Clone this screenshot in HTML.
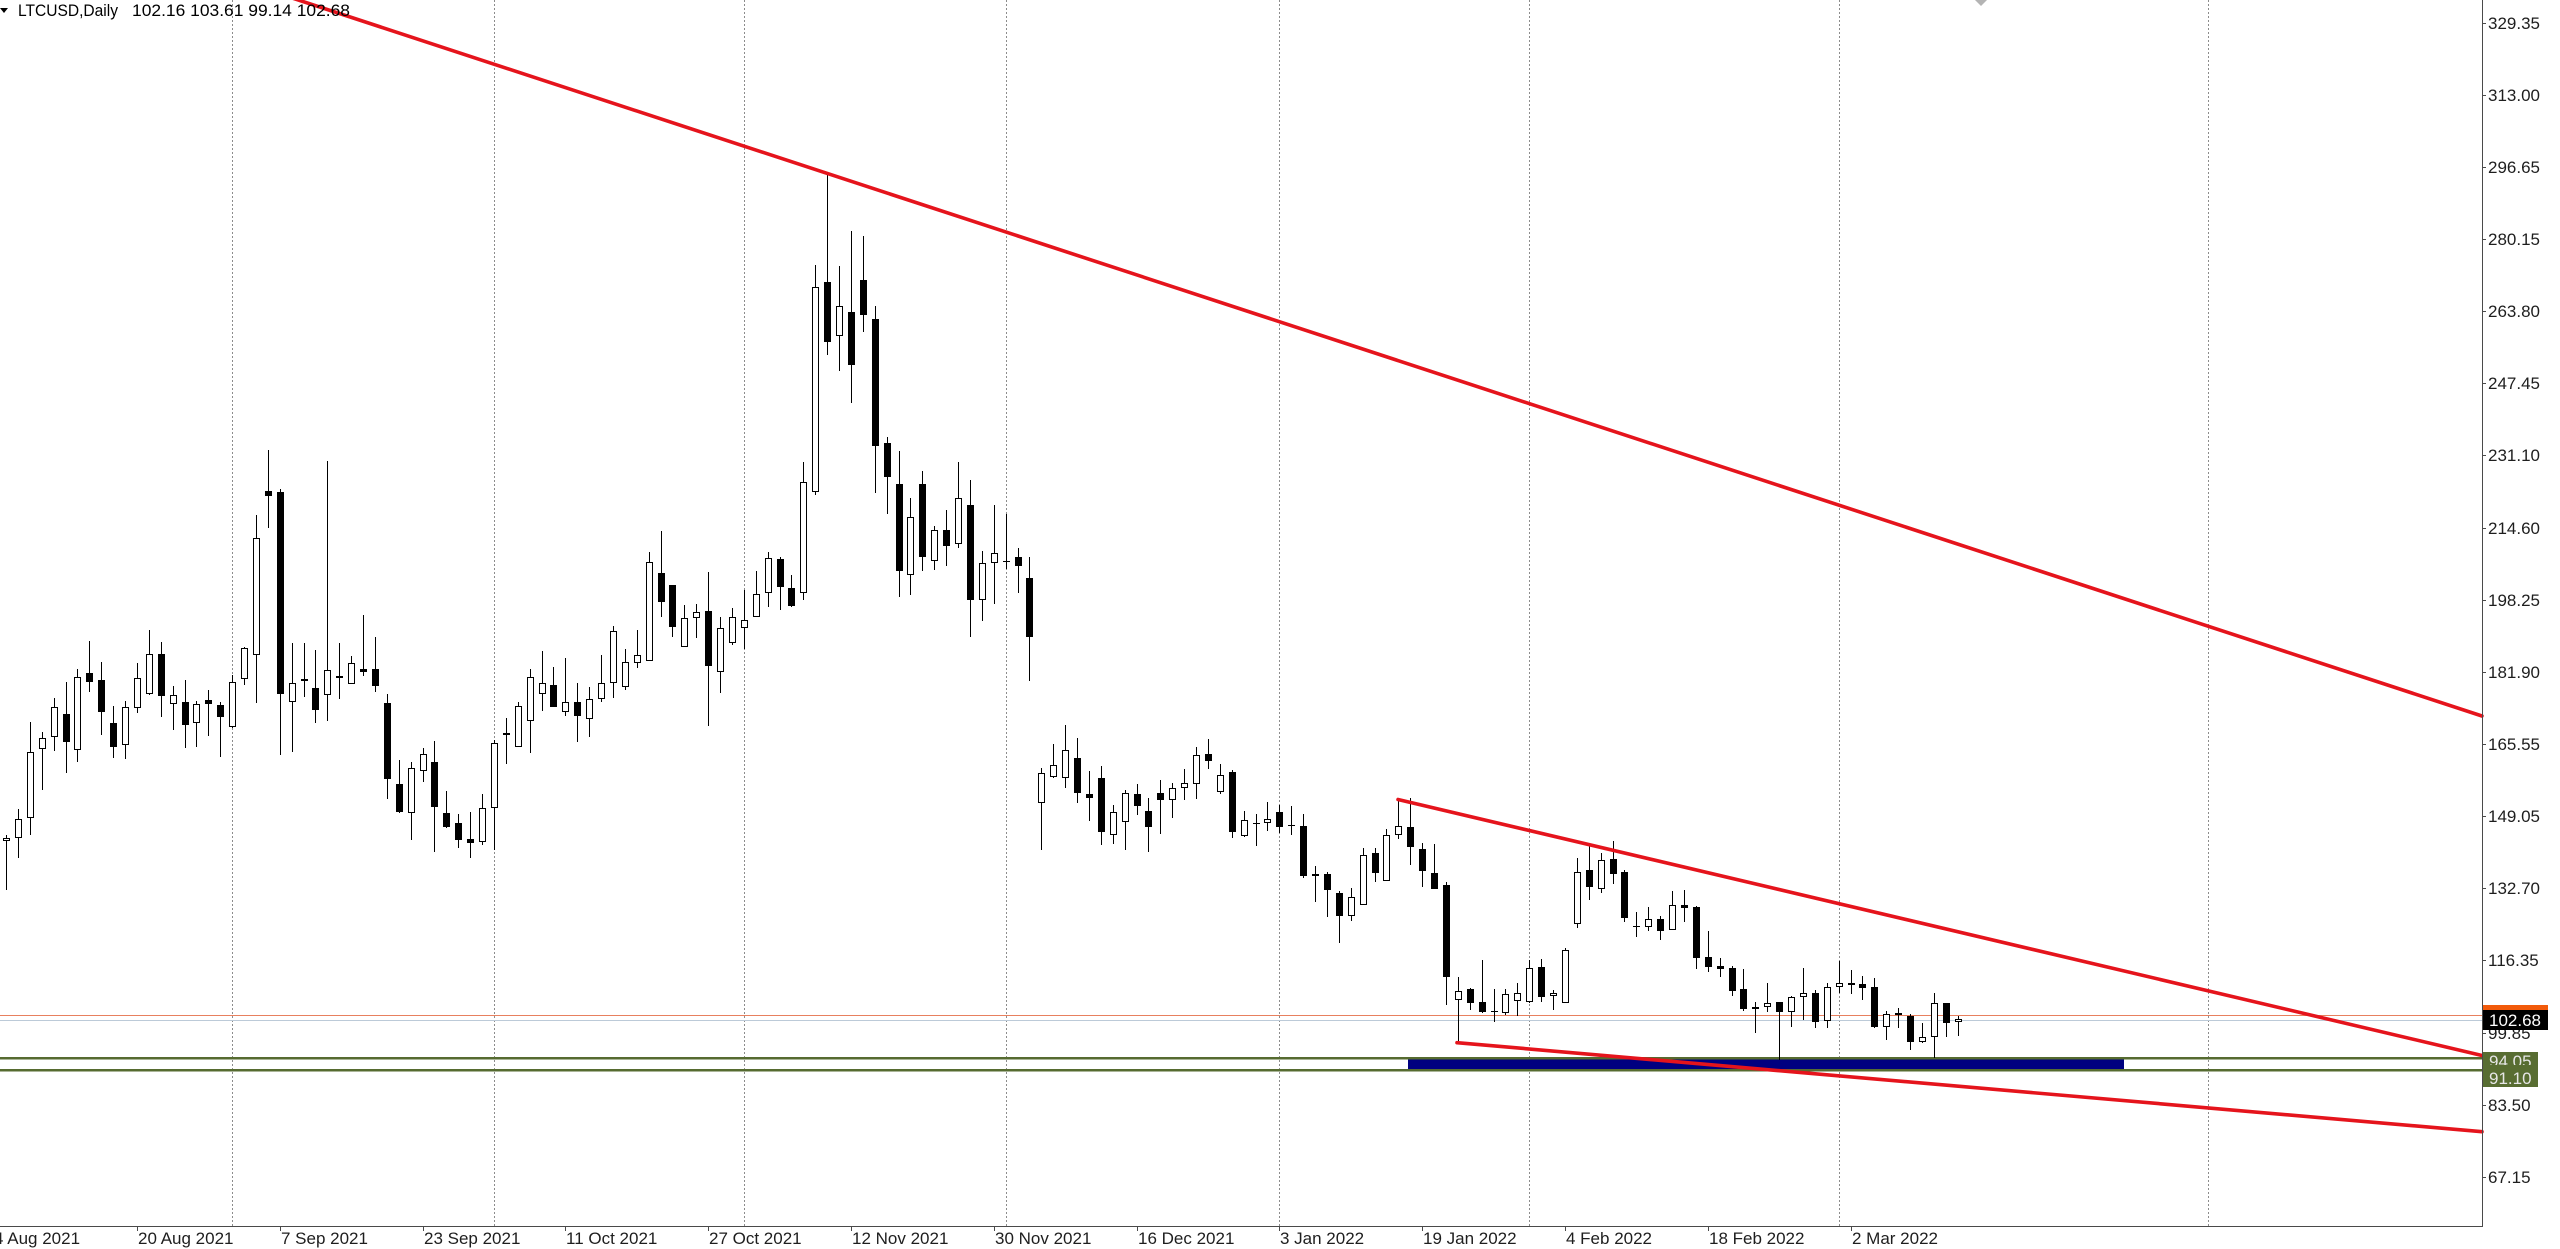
<!DOCTYPE html>
<html><head><meta charset="utf-8"><style>
html,body{margin:0;padding:0;background:#fff;}
svg{display:block;}
text{font-family:"Liberation Sans",Arial,sans-serif;}
</style></head><body>
<svg width="2560" height="1249" viewBox="0 0 2560 1249" xmlns="http://www.w3.org/2000/svg">
<rect x="0" y="0" width="2560" height="1249" fill="#fff"/>
<!-- grid -->
<g stroke="#8c8c8c" stroke-width="1" stroke-dasharray="2 2" shape-rendering="crispEdges">
<line x1="232.5" y1="0" x2="232.5" y2="1226"/>
<line x1="494.5" y1="0" x2="494.5" y2="1226"/>
<line x1="744.5" y1="0" x2="744.5" y2="1226"/>
<line x1="1006.5" y1="0" x2="1006.5" y2="1226"/>
<line x1="1279.5" y1="0" x2="1279.5" y2="1226"/>
<line x1="1529.5" y1="0" x2="1529.5" y2="1226"/>
<line x1="1839.5" y1="0" x2="1839.5" y2="1226"/>
<line x1="2208.5" y1="0" x2="2208.5" y2="1226"/>
</g>
<!-- bid/ask lines -->
<line x1="0" y1="1015.5" x2="2482" y2="1015.5" stroke="#e8805e" stroke-width="1" shape-rendering="crispEdges"/>
<line x1="0" y1="1020.5" x2="2482" y2="1020.5" stroke="#bccad8" stroke-width="1" shape-rendering="crispEdges"/>
<!-- blue rectangle -->
<rect x="1408" y="1058" width="716" height="12" fill="#000080"/>
<!-- green levels -->
<g stroke="#566b30" stroke-width="2.5" shape-rendering="crispEdges">
<line x1="0" y1="1058" x2="2482" y2="1058"/>
<line x1="0" y1="1070" x2="2482" y2="1070"/>
</g>
<!-- wicks -->
<path fill="none" stroke="#000" stroke-width="1" shape-rendering="crispEdges" d="M6.5 835V890 M18.5 809V858 M30.5 722V835 M42.5 732V790 M54.5 698V751 M66.5 682V773 M77.5 669V762 M89.5 641V692 M101.5 662V735 M113.5 706V758 M125.5 701V759 M137.5 663V713 M149.5 630V695 M161.5 642V717 M173.5 686V730 M185.5 680V748 M196.5 701V747 M208.5 690V736 M220.5 702V757 M232.5 675V728 M244.5 647V685 M256.5 515V703 M268.5 450V528 M280.5 489V755 M292.5 643V752 M304.5 643V697 M315.5 650V723 M327.5 461V721 M339.5 643V699 M351.5 656V684 M363.5 615V676 M375.5 637V692 M387.5 694V799 M399.5 760V813 M411.5 762V840 M423.5 748V782 M434.5 741V852 M446.5 791V828 M458.5 814V848 M470.5 812V858 M482.5 794V845 M494.5 740V850 M506.5 718V764 M518.5 702V747 M530.5 669V753 M542.5 651V711 M553.5 667V707 M565.5 658V716 M577.5 683V742 M589.5 687V737 M601.5 655V702 M613.5 626V698 M625.5 649V690 M637.5 630V668 M649.5 552V661 M661.5 531V617 M672.5 585V637 M684.5 605V647 M696.5 604V638 M708.5 572V726 M720.5 617V693 M732.5 608V645 M744.5 590V649 M756.5 571V617 M768.5 552V607 M780.5 557V610 M791.5 575V607 M803.5 462V600 M815.5 265V495 M827.5 174V355 M839.5 266V371 M851.5 231V403 M863.5 236V332 M875.5 306V493 M887.5 437V514 M899.5 451V597 M910.5 498V595 M922.5 471V571 M934.5 526V570 M946.5 510V566 M958.5 462V548 M970.5 480V637 M982.5 551V621 M994.5 505V604 M1006.5 514V569 M1018.5 548V593 M1029.5 557V681 M1041.5 768V850 M1053.5 744V778 M1065.5 725V788 M1077.5 738V803 M1089.5 771V821 M1101.5 766V845 M1113.5 805V844 M1125.5 790V850 M1137.5 784V815 M1148.5 798V852 M1160.5 780V834 M1172.5 783V818 M1184.5 769V800 M1196.5 747V799 M1208.5 739V769 M1220.5 764V794 M1232.5 770V838 M1244.5 811V837 M1256.5 814V846 M1267.5 802V831 M1279.5 805V833 M1291.5 806V835 M1303.5 814V878 M1315.5 866V902 M1327.5 872V917 M1339.5 891V943 M1351.5 888V921 M1363.5 848V905 M1375.5 848V882 M1386.5 829V881 M1398.5 800V839 M1410.5 798V865 M1422.5 843V887 M1434.5 844V889 M1446.5 882V1005 M1458.5 977V1043 M1470.5 988V1010 M1482.5 960V1013 M1494.5 989V1022 M1505.5 989V1015 M1517.5 983V1016 M1529.5 960V1003 M1541.5 959V1002 M1553.5 990V1010 M1565.5 948V1003 M1577.5 858V928 M1589.5 846V900 M1601.5 853V893 M1613.5 841V884 M1624.5 870V922 M1636.5 912V937 M1648.5 907V931 M1660.5 916V940 M1672.5 891V930 M1684.5 890V922 M1696.5 906V969 M1708.5 931V972 M1720.5 958V977 M1732.5 966V996 M1743.5 969V1011 M1755.5 1002V1033 M1767.5 983V1012 M1779.5 1002V1060 M1791.5 996V1027 M1803.5 968V1020 M1815.5 990V1028 M1827.5 983V1028 M1839.5 961V993 M1851.5 970V994 M1862.5 976V1000 M1874.5 978V1028 M1886.5 1011V1040 M1898.5 1008V1028 M1910.5 1014V1050 M1922.5 1023V1043 M1934.5 993V1058 M1946.5 1003V1037 M1958.5 1016V1036"/>
<!-- black bodies -->
<path fill="#000" shape-rendering="crispEdges" d="M63 714h7V742h-7z M86 673h7V682h-7z M98 680h7V712h-7z M110 723h7V747h-7z M158 654h7V696h-7z M182 702h7V725h-7z M205 700h7V704h-7z M217 705h7V717h-7z M265 491h7V496h-7z M277 492h7V694h-7z M301 679h7V681h-7z M312 688h7V710h-7z M360 669h7V672h-7z M372 669h7V686h-7z M384 703h7V779h-7z M396 784h7V812h-7z M431 762h7V807h-7z M443 813h7V827h-7z M455 823h7V840h-7z M467 839h7V843h-7z M503 733h7V735h-7z M550 685h7V707h-7z M574 702h7V716h-7z M658 573h7V602h-7z M669 585h7V627h-7z M705 611h7V666h-7z M777 559h7V587h-7z M788 588h7V606h-7z M824 282h7V342h-7z M848 312h7V365h-7z M860 280h7V315h-7z M872 319h7V446h-7z M884 443h7V477h-7z M896 484h7V571h-7z M919 484h7V557h-7z M943 530h7V546h-7z M967 505h7V600h-7z M1003 561h7V562h-7z M1015 557h7V566h-7z M1026 578h7V637h-7z M1074 758h7V793h-7z M1086 794h7V798h-7z M1098 778h7V832h-7z M1134 794h7V806h-7z M1145 811h7V827h-7z M1157 793h7V800h-7z M1205 754h7V761h-7z M1229 772h7V832h-7z M1253 823h7V824h-7z M1276 812h7V827h-7z M1288 825h7V826h-7z M1300 826h7V876h-7z M1324 874h7V890h-7z M1336 893h7V916h-7z M1372 853h7V873h-7z M1407 827h7V847h-7z M1419 849h7V871h-7z M1431 873h7V889h-7z M1443 885h7V977h-7z M1467 989h7V1003h-7z M1479 1002h7V1012h-7z M1491 1011h7V1012h-7z M1538 967h7V997h-7z M1586 870h7V887h-7z M1610 859h7V874h-7z M1621 872h7V918h-7z M1633 926h7V927h-7z M1657 919h7V931h-7z M1681 905h7V908h-7z M1693 907h7V958h-7z M1705 957h7V967h-7z M1717 966h7V969h-7z M1729 968h7V991h-7z M1740 989h7V1009h-7z M1776 1002h7V1012h-7z M1812 993h7V1022h-7z M1848 983h7V985h-7z M1859 984h7V988h-7z M1871 987h7V1027h-7z M1895 1013h7V1015h-7z M1907 1016h7V1042h-7z M1943 1003h7V1023h-7z"/>
<!-- white bodies -->
<path fill="#fff" stroke="#000" stroke-width="1" shape-rendering="crispEdges" d="M3.5 838.5h6V840.5h-6z M15.5 819.5h6V837.5h-6z M27.5 752.5h6V817.5h-6z M39.5 738.5h6V748.5h-6z M51.5 707.5h6V736.5h-6z M74.5 677.5h6V749.5h-6z M122.5 707.5h6V744.5h-6z M134.5 678.5h6V707.5h-6z M146.5 654.5h6V693.5h-6z M170.5 695.5h6V703.5h-6z M193.5 704.5h6V722.5h-6z M229.5 682.5h6V726.5h-6z M241.5 648.5h6V678.5h-6z M253.5 538.5h6V654.5h-6z M289.5 683.5h6V701.5h-6z M324.5 670.5h6V694.5h-6z M336.5 676.5h6V677.5h-6z M348.5 663.5h6V683.5h-6z M408.5 768.5h6V812.5h-6z M420.5 754.5h6V770.5h-6z M479.5 808.5h6V841.5h-6z M491.5 743.5h6V807.5h-6z M515.5 706.5h6V746.5h-6z M527.5 677.5h6V720.5h-6z M539.5 683.5h6V693.5h-6z M562.5 702.5h6V711.5h-6z M586.5 699.5h6V718.5h-6z M598.5 683.5h6V698.5h-6z M610.5 631.5h6V682.5h-6z M622.5 662.5h6V686.5h-6z M634.5 655.5h6V662.5h-6z M646.5 562.5h6V660.5h-6z M681.5 618.5h6V646.5h-6z M693.5 612.5h6V617.5h-6z M717.5 628.5h6V671.5h-6z M729.5 617.5h6V642.5h-6z M741.5 620.5h6V627.5h-6z M753.5 594.5h6V616.5h-6z M765.5 558.5h6V592.5h-6z M800.5 482.5h6V592.5h-6z M812.5 287.5h6V491.5h-6z M836.5 306.5h6V335.5h-6z M907.5 517.5h6V574.5h-6z M931.5 530.5h6V560.5h-6z M955.5 498.5h6V543.5h-6z M979.5 563.5h6V599.5h-6z M991.5 553.5h6V562.5h-6z M1038.5 773.5h6V802.5h-6z M1050.5 765.5h6V776.5h-6z M1062.5 750.5h6V777.5h-6z M1110.5 812.5h6V834.5h-6z M1122.5 793.5h6V821.5h-6z M1169.5 788.5h6V799.5h-6z M1181.5 783.5h6V787.5h-6z M1193.5 755.5h6V783.5h-6z M1217.5 775.5h6V791.5h-6z M1241.5 820.5h6V835.5h-6z M1264.5 819.5h6V822.5h-6z M1312.5 874.5h6V875.5h-6z M1348.5 897.5h6V915.5h-6z M1360.5 855.5h6V904.5h-6z M1383.5 835.5h6V880.5h-6z M1395.5 826.5h6V834.5h-6z M1455.5 991.5h6V999.5h-6z M1502.5 994.5h6V1012.5h-6z M1514.5 993.5h6V1000.5h-6z M1526.5 968.5h6V1001.5h-6z M1550.5 993.5h6V995.5h-6z M1562.5 950.5h6V1002.5h-6z M1574.5 872.5h6V923.5h-6z M1598.5 860.5h6V888.5h-6z M1645.5 919.5h6V926.5h-6z M1669.5 905.5h6V929.5h-6z M1752.5 1007.5h6V1008.5h-6z M1764.5 1003.5h6V1006.5h-6z M1788.5 997.5h6V1011.5h-6z M1800.5 993.5h6V996.5h-6z M1824.5 987.5h6V1020.5h-6z M1836.5 983.5h6V986.5h-6z M1883.5 1014.5h6V1026.5h-6z M1919.5 1037.5h6V1041.5h-6z M1931.5 1003.5h6V1036.5h-6z M1955.5 1019.5h6V1021.5h-6z"/>
<!-- red trend lines -->
<g stroke="#e5141c" stroke-width="3.6" stroke-linecap="round" fill="none">
<line x1="280" y1="-6" x2="2482" y2="716"/>
<line x1="1398" y1="799.5" x2="2482" y2="1055.5"/>
<line x1="1457" y1="1042.7" x2="2482" y2="1131.7"/>
</g>
<!-- marker at top -->
<polygon points="1975,0 1987,0 1981,6" fill="#b4b4b4"/>
<!-- axes -->
<line x1="2482.5" y1="0" x2="2482.5" y2="1227" stroke="#4a4a4a" stroke-width="1" shape-rendering="crispEdges"/>
<line x1="0" y1="1226.5" x2="2483" y2="1226.5" stroke="#4a4a4a" stroke-width="1" shape-rendering="crispEdges"/>
<!-- price ticks -->
<path stroke="#4a4a4a" stroke-width="1" shape-rendering="crispEdges" d="M2482 23.5h4 M2482 95.5h4 M2482 167.5h4 M2482 239.5h4 M2482 311.5h4 M2482 383.5h4 M2482 455.5h4 M2482 528.5h4 M2482 600.5h4 M2482 672.5h4 M2482 744.5h4 M2482 816.5h4 M2482 888.5h4 M2482 960.5h4 M2482 1033.5h4 M2482 1105.5h4 M2482 1177.5h4"/>
<!-- price labels -->
<g font-size="17" fill="#1e1e1e">
<text x="2488" y="29">329.35</text>
<text x="2488" y="101">313.00</text>
<text x="2488" y="173">296.65</text>
<text x="2488" y="245">280.15</text>
<text x="2488" y="317">263.80</text>
<text x="2488" y="389">247.45</text>
<text x="2488" y="461">231.10</text>
<text x="2488" y="534">214.60</text>
<text x="2488" y="606">198.25</text>
<text x="2488" y="678">181.90</text>
<text x="2488" y="750">165.55</text>
<text x="2488" y="822">149.05</text>
<text x="2488" y="894">132.70</text>
<text x="2488" y="966">116.35</text>
<text x="2488" y="1039">99.85</text>
<text x="2488" y="1111">83.50</text>
<text x="2488" y="1183">67.15</text>
</g>
<!-- price boxes -->
<rect x="2483" y="1005" width="65" height="20" fill="#f25a0a"/>
<rect x="2483" y="1010" width="65" height="20" fill="#000"/>
<text x="2489" y="1026" font-size="17" fill="#fff">102.68</text>
<rect x="2483" y="1052" width="55" height="19" fill="#586d32"/>
<text x="2489" y="1067" font-size="17" fill="#e6e6e6">94.05</text>
<rect x="2483" y="1065" width="55" height="22" fill="#586d32"/>
<text x="2489" y="1084" font-size="17" fill="#e6e6e6">91.10</text>
<!-- time ticks -->
<path stroke="#4a4a4a" stroke-width="1" shape-rendering="crispEdges" d="M137.5 1226v5 M280.5 1226v5 M423.5 1226v5 M565.5 1226v5 M708.5 1226v5 M851.5 1226v5 M994.5 1226v5 M1137.5 1226v5 M1279.5 1226v5 M1422.5 1226v5 M1565.5 1226v5 M1708.5 1226v5 M1851.5 1226v5"/>
<!-- date labels -->
<g font-size="17" fill="#1e1e1e">
<text x="-6" y="1244">4 Aug 2021</text>
<text x="138" y="1244">20 Aug 2021</text>
<text x="281" y="1244">7 Sep 2021</text>
<text x="424" y="1244">23 Sep 2021</text>
<text x="566" y="1244">11 Oct 2021</text>
<text x="709" y="1244">27 Oct 2021</text>
<text x="852" y="1244">12 Nov 2021</text>
<text x="995" y="1244">30 Nov 2021</text>
<text x="1138" y="1244">16 Dec 2021</text>
<text x="1280" y="1244">3 Jan 2022</text>
<text x="1423" y="1244">19 Jan 2022</text>
<text x="1566" y="1244">4 Feb 2022</text>
<text x="1709" y="1244">18 Feb 2022</text>
<text x="1852" y="1244">2 Mar 2022</text>
</g>
<!-- title -->
<polygon points="0,8 8,8 4,13" fill="#000"/>
<text x="18" y="16" font-size="17" fill="#000" textLength="100" lengthAdjust="spacingAndGlyphs">LTCUSD,Daily</text>
<text x="132" y="16" font-size="17" fill="#000" textLength="218" lengthAdjust="spacingAndGlyphs">102.16 103.61 99.14 102.68</text>
</svg>
</body></html>
